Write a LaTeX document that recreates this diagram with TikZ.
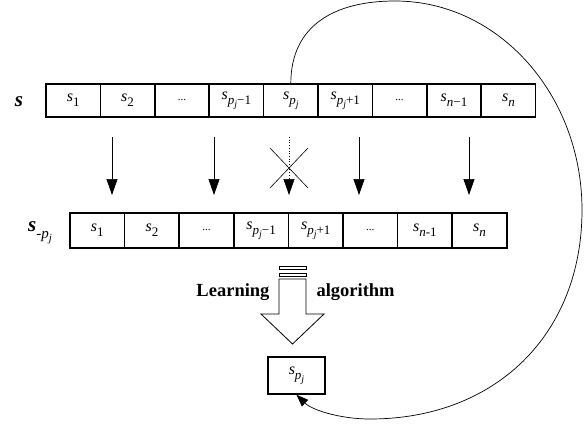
\documentclass[tikz,border=0pt]{standalone}
\usepackage{fontspec}
\setmainfont{Liberation Serif}
\usetikzlibrary{arrows.meta}

% italic element names with lowered indices
\newcommand{\sv}[1]{\textit{s}\raisebox{-5pt}{\fontsize{13}{15}\selectfont #1}}
\newcommand{\pj}{\textit{p}\raisebox{-3pt}{\fontsize{10}{11}\selectfont\textit{j}}}
\newcommand{\gap}{{\fontsize{11}{13}\selectfont...}}

\begin{document}
\begin{tikzpicture}[x=1pt, y=-1pt,
    cell/.style={draw, line width=1.5pt, inner sep=0pt, font=\fontsize{16}{18}\selectfont},
    down/.style={-{Triangle[length=16pt, width=11pt]}, line width=0.7pt},
    every node/.style={font=\fontsize{16}{18}\selectfont}]

  \useasboundingbox (0,0) rectangle (586,423);

  % Top row: the full sequence s
  \foreach \i/\txt in {1/{\sv{1}}, 2/{\sv{2}}, 3/{\gap}, 4/{\sv{\pj−1}}, 5/{\sv{\pj}},
    6/{\sv{\pj+1}}, 7/{\gap}, 8/{\sv{\textit{n}−1}}, 9/{\sv{\textit{n}}}} {
    \node[cell, minimum width=54.4pt, minimum height=33pt] (top\i)
      at ({73.2+54.4*(\i-1)}, 100.5) {\txt};
  }
  \node (slab) at (19,102) {\fontsize{21}{24}\selectfont\textbf{\textit{s}}};

  % Bottom row: the sequence without s_{p_j}
  \foreach \i/\txt in {1/{\sv{1}}, 2/{\sv{2}}, 3/{\gap}, 4/{\sv{\pj−1}},
    5/{\sv{\pj+1}}, 6/{\gap}, 7/{\sv{\textit{n}-1}}, 8/{\sv{\textit{n}}}} {
    \node[cell, minimum width=54.6pt, minimum height=35pt] (rest\i)
      at ({97.3+54.6*(\i-1)}, 230.5) {\txt};
  }
  \node (restlab) at (40,233) {\fontsize{21}{24}\selectfont\textbf{\textit{s}}%
    \raisebox{-7pt}{\fontsize{15}{17}\selectfont -\textit{p}\raisebox{-3pt}{\fontsize{11}{12}\selectfont\textit{j}}}};

  % Copy arrows
  \foreach \x in {112,214,359,469} {
    \draw[down] (\x,137) coordinate (from\x) -- (\x,195) coordinate (to\x);
  }

  % Removed element
  \draw[down, dotted] (289,137) coordinate (from289) -- (289,195) coordinate (to289);
  \draw[line width=0.6pt] (270,148) -- (308,188) (270,188) -- (308,148);

  % Learning algorithm arrow
  \draw[line width=0.8pt] (279,266) rectangle (306,269);
  \draw[line width=0.8pt] (279,273) rectangle (306,276);
  \draw[line width=0.8pt] (279,279) -- (306,279) -- (306,314) -- (324,314)
    -- (292.5,344) -- (261,314) -- (279,314) -- cycle;
  \node[anchor=east, font=\bfseries\fontsize{18.5}{22}\selectfont] (learn) at (273,292) {Learning};
  \node[anchor=west, font=\bfseries\fontsize{18.5}{22}\selectfont] (algo) at (313,292) {algorithm};

  % Predicted element
  \node[cell, minimum width=57pt, minimum height=37pt] (res) at (296.5,375.5) {\sv{\pj}};

  % Feedback curve
  \draw[-{Triangle[length=12pt, width=9pt]}, line width=0.7pt] (top5.north)
    .. controls (291,25) and (335,1) .. (395,1)
    .. controls (499,1) and (582,95) .. (582,210)
    .. controls (582,335) and (495,419) .. (370,419)
    .. controls (340,419) and (312,410) .. (res.south);

\end{tikzpicture}
\end{document}
